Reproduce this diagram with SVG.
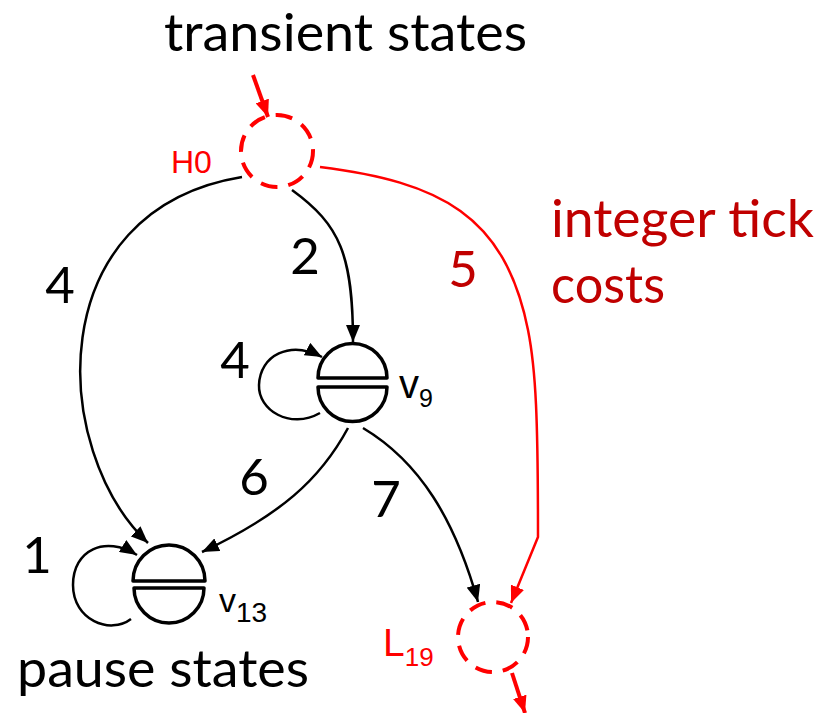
<svg xmlns="http://www.w3.org/2000/svg" width="826" height="713" viewBox="0 0 826 713">
<defs>
<style>
.big{font-family:Lato,"Open Sans","Liberation Sans",sans-serif;font-size:52px;fill:#000}
.num{font-family:Lato,"Open Sans","Liberation Sans",sans-serif;font-size:51px;fill:#000;text-anchor:middle}
.dred{fill:#C00000}
.lbl{font-family:"Liberation Sans",Arial,sans-serif;fill:#000}
.red{fill:#FF0000}
.conn{fill:none;stroke:#000;stroke-width:2.5}
.rconn{fill:none;stroke:#FF0000;stroke-width:2.5}
.dash{fill:none;stroke:#FF0000;stroke-width:4;stroke-dasharray:17 11}
.pause{fill:#fff;stroke:#000;stroke-width:3.5;stroke-linejoin:round}
</style>
<marker id="ab" markerUnits="userSpaceOnUse" markerWidth="18" markerHeight="14" refX="17" refY="7" orient="auto" viewBox="0 0 18 14"><path d="M0,0 L17,7 L0,14 z" fill="#000"/></marker>
<marker id="ar" markerUnits="userSpaceOnUse" markerWidth="18" markerHeight="14" refX="17" refY="7" orient="auto" viewBox="0 0 18 14"><path d="M0,0 L17,7 L0,14 z" fill="#FF0000"/></marker>
</defs>
<rect width="826" height="713" fill="#fff"/>
<g id="connectors">
<path class="rconn" style="stroke-width:4" d="M253,75 L268,117" marker-end="url(#ar)"/>
<path class="conn" d="M242,177 C40,210 50,450 148,543" marker-end="url(#ab)"/>
<path class="conn" d="M292,190 C340,225 353,255 353,342" marker-end="url(#ab)"/>
<path class="rconn" d="M320,167 C440,182 505,215 528,330 C536,370 538,420 538,537 L511,603" marker-end="url(#ar)"/>
<path class="conn" d="M320,413 C290,430 258,410 259,385 C260,355 290,340 322,357" marker-end="url(#ab)"/>
<path class="conn" d="M348,428 C320,480 280,515 202,552" marker-end="url(#ab)"/>
<path class="conn" d="M363,428 C420,462 455,520 478,602" marker-end="url(#ab)"/>
<path class="conn" d="M131,619 C110,635 73,620 73,585 C73,550 105,535 137,555" marker-end="url(#ab)"/>
<path class="rconn" style="stroke-width:4" d="M512,673 L525,713" marker-end="url(#ar)"/>
</g>
<g id="H0">
<circle class="dash" cx="277" cy="151" r="36"/>
<text class="lbl red" x="171" y="173" font-size="32">H0</text>
</g>
<g id="v9">
<path class="pause" d="M318,378 A34.5,34.5 0 0 1 387,378 Z"/>
<path class="pause" d="M318,387 A34.5,34.5 0 0 0 387,387 Z"/>
<text class="lbl" x="399" y="398" font-size="40">v<tspan font-size="25" dy="9">9</tspan></text>
</g>
<g id="v13">
<path class="pause" d="M133,581 A36,36 0 0 1 205,581 Z"/>
<path class="pause" d="M134,588 A35,35 0 0 0 204,588 Z"/>
<text class="lbl" x="219" y="612" font-size="34">v<tspan font-size="28" dy="10">13</tspan></text>
</g>
<g id="L19">
<circle class="dash" cx="493" cy="637" r="35"/>
<text class="lbl red" x="383" y="656" font-size="39">L<tspan font-size="26" dy="10">19</tspan></text>
</g>
<g id="labels">
<text class="big" x="164" y="51" textLength="363" lengthAdjust="spacingAndGlyphs">transient states</text>
<text class="big dred" x="551" y="237" textLength="263" lengthAdjust="spacingAndGlyphs">integer tick</text>
<text class="big dred" x="551" y="303" textLength="114" lengthAdjust="spacingAndGlyphs">costs</text>
<text class="big" x="17" y="687" textLength="292" lengthAdjust="spacingAndGlyphs">pause states</text>
<text class="num" x="60" y="303">4</text>
<text class="num" x="305" y="274">2</text>
<text class="num dred" x="463" y="287">5</text>
<text class="num" x="235" y="378">4</text>
<text class="num" x="254" y="495">6</text>
<text class="num" x="386" y="517">7</text>
<text class="num" x="37" y="573">1</text>
</g>
</svg>
